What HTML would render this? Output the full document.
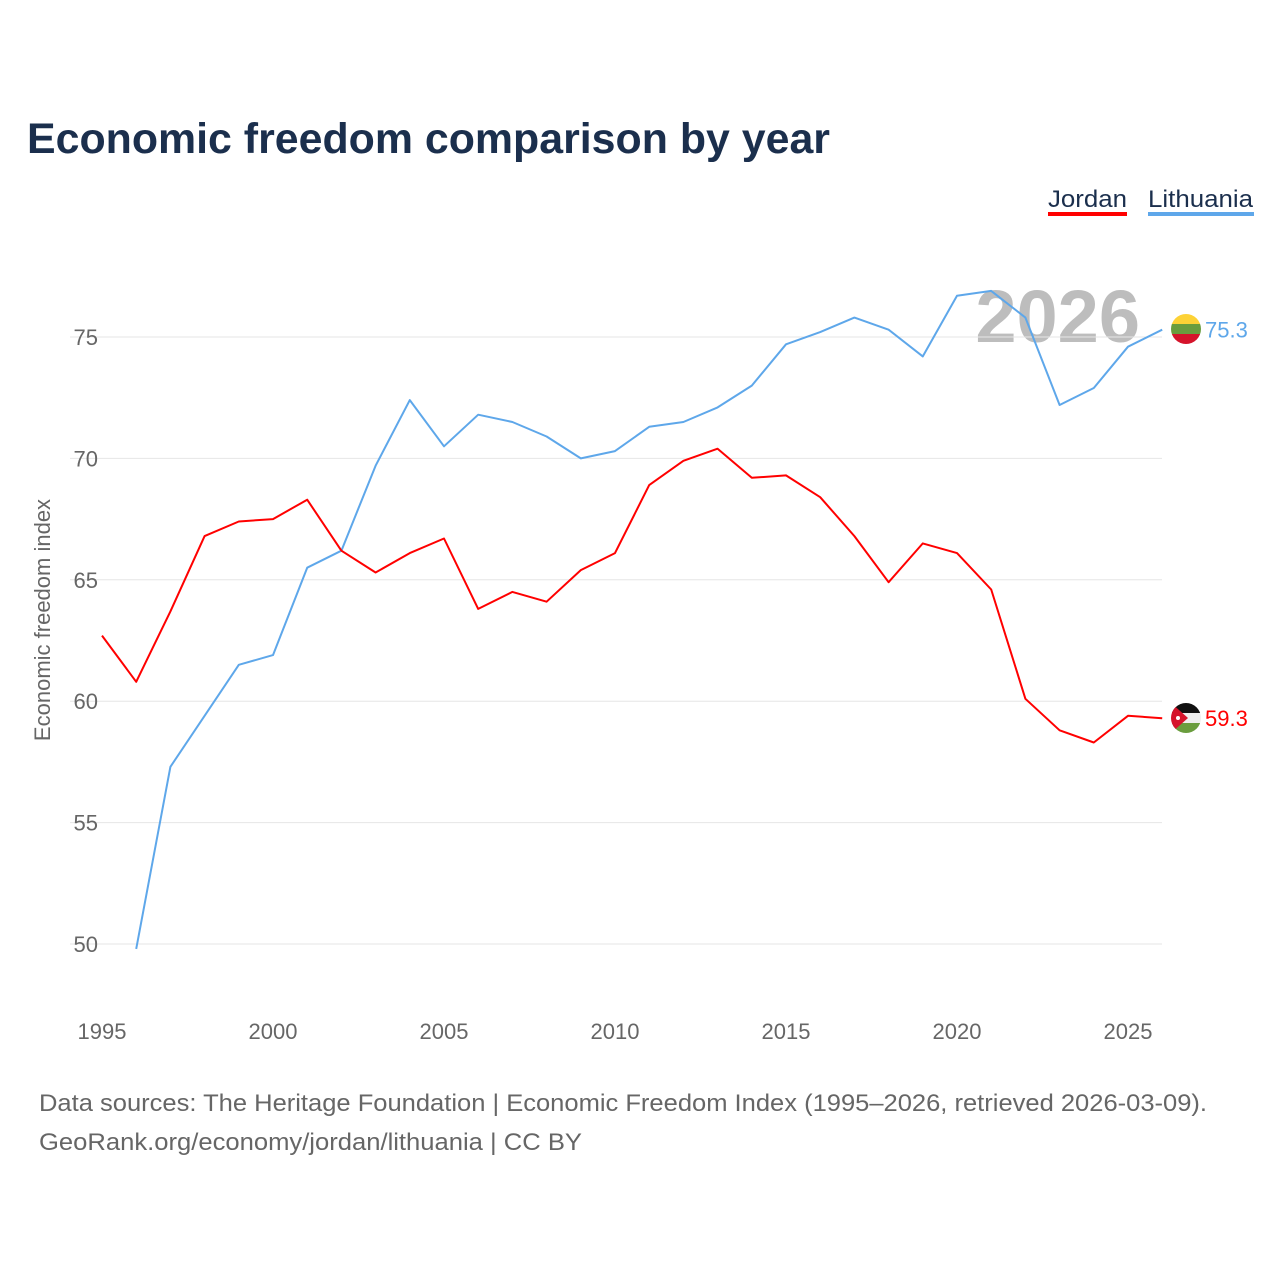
<!DOCTYPE html>
<html><head><meta charset="utf-8"><style>
body{margin:0;background:#fff;width:1280px;height:1280px;overflow:hidden;font-family:"Liberation Sans",sans-serif}
</style></head><body>
<svg id="chart" width="1280" height="1280" xmlns="http://www.w3.org/2000/svg" font-family="Liberation Sans, sans-serif">
<text x="27" y="153" font-size="43" font-weight="bold" fill="#1b2f4d" textLength="803" lengthAdjust="spacingAndGlyphs">Economic freedom comparison by year</text>
<g>
<text x="1048" y="207" font-size="24" fill="#1b2f4d" textLength="79" lengthAdjust="spacingAndGlyphs">Jordan</text>
<rect x="1048" y="212" width="79" height="4" fill="#ff0000"/>
<text x="1148" y="207" font-size="24" fill="#1b2f4d" textLength="105" lengthAdjust="spacingAndGlyphs">Lithuania</text>
<rect x="1148" y="212" width="106" height="4" fill="#5ea7ea"/>
</g>
<text x="1140" y="342" text-anchor="end" font-size="74" font-weight="bold" fill="#bdbdbd">2026</text>
<g id="grid"></g><g id="axes"></g><g id="lines"></g>
<text transform="translate(50,620) rotate(-90)" text-anchor="middle" font-size="22" fill="#666">Economic freedom index</text>
<text x="39" y="1111" font-size="24" fill="#666" textLength="1168" lengthAdjust="spacingAndGlyphs">Data sources: The Heritage Foundation | Economic Freedom Index (1995–2026, retrieved 2026-03-09).</text>
<text x="39" y="1150" font-size="24" fill="#666" textLength="543" lengthAdjust="spacingAndGlyphs">GeoRank.org/economy/jordan/lithuania | CC BY</text>
<g>
<clipPath id="cl"><circle cx="1186" cy="329" r="15"/></clipPath>
<g clip-path="url(#cl)"><rect x="1170" y="313" width="32" height="11" fill="#fdd236"/><rect x="1170" y="324" width="32" height="10" fill="#6a9d3e"/><rect x="1170" y="334" width="32" height="11" fill="#d5142b"/></g>
</g>
<g>
<clipPath id="cj"><circle cx="1186" cy="718" r="15"/></clipPath>
<g clip-path="url(#cj)"><rect x="1170" y="702" width="32" height="11" fill="#111"/><rect x="1170" y="713" width="32" height="10" fill="#eee"/><rect x="1170" y="723" width="32" height="11" fill="#6a9d3e"/><polygon points="1170,702 1188,718 1170,734" fill="#d5142b"/><circle cx="1178" cy="718" r="2" fill="#fff"/></g>
</g>
</svg>
<script>
const years=[1995,1996,1997,1998,1999,2000,2001,2002,2003,2004,2005,2006,2007,2008,2009,2010,2011,2012,2013,2014,2015,2016,2017,2018,2019,2020,2021,2022,2023,2024,2025,2026];
const jordan=[62.7,60.8,63.7,66.8,67.4,67.5,68.3,66.2,65.3,66.1,66.7,63.8,64.5,64.1,65.4,66.1,68.9,69.9,70.4,69.2,69.3,68.4,66.8,64.9,66.5,66.1,64.6,60.1,58.8,58.3,59.4,59.3];
const lithuania=[null,49.8,57.3,59.4,61.5,61.9,65.5,66.2,69.7,72.4,70.5,71.8,71.5,70.9,70.0,70.3,71.3,71.5,72.1,73.0,74.7,75.2,75.8,75.3,74.2,76.7,76.9,75.8,72.2,72.9,74.6,75.3];
const yTicks=[50,55,60,65,70,75];
const xTicks=[1995,2000,2005,2010,2015,2020,2025];
const NS="http://www.w3.org/2000/svg";
const X=y=>102+(y-1995)*34.2;
const Y=v=>337+(75-v)*24.28;
function mk(t,a,p){const e=document.createElementNS(NS,t);for(const k in a)e.setAttribute(k,a[k]);p.appendChild(e);return e;}
const grid=document.getElementById('grid'),axes=document.getElementById('axes'),lines=document.getElementById('lines');
yTicks.forEach(v=>{
 const l=mk('line',{x1:70,x2:1162,y1:Y(v),y2:Y(v),stroke:'#e6e6e6','stroke-width':1},grid);
 
 
 const t=mk('text',{x:98,y:Y(v)+8,'text-anchor':'end','font-size':22,fill:'#666'},axes);
 t.textContent=v;
 
 
});
xTicks.forEach(v=>{
 const t=mk('text',{x:X(v),y:1039,'text-anchor':'middle','font-size':22,fill:'#666'},axes);
 t.textContent=v;
 
 
});
function series(vals,color,name){
 const pts=[];vals.forEach((v,i)=>{if(v!=null)pts.push(X(years[i]).toFixed(1)+','+Y(v).toFixed(1));});
 const p=mk('polyline',{points:pts.join(' '),fill:'none',stroke:color,'stroke-width':2,'stroke-linejoin':'round'},lines);
 
 
 const last=vals[vals.length-1];
 const t=mk('text',{x:1205,y:Y(last)+8,'font-size':22,fill:color},lines);
 t.textContent=last.toFixed(1);
 
 
}
series(lithuania,'#5ea7ea','lithuania');
series(jordan,'#ff0000','jordan');
</script>
</body></html>
